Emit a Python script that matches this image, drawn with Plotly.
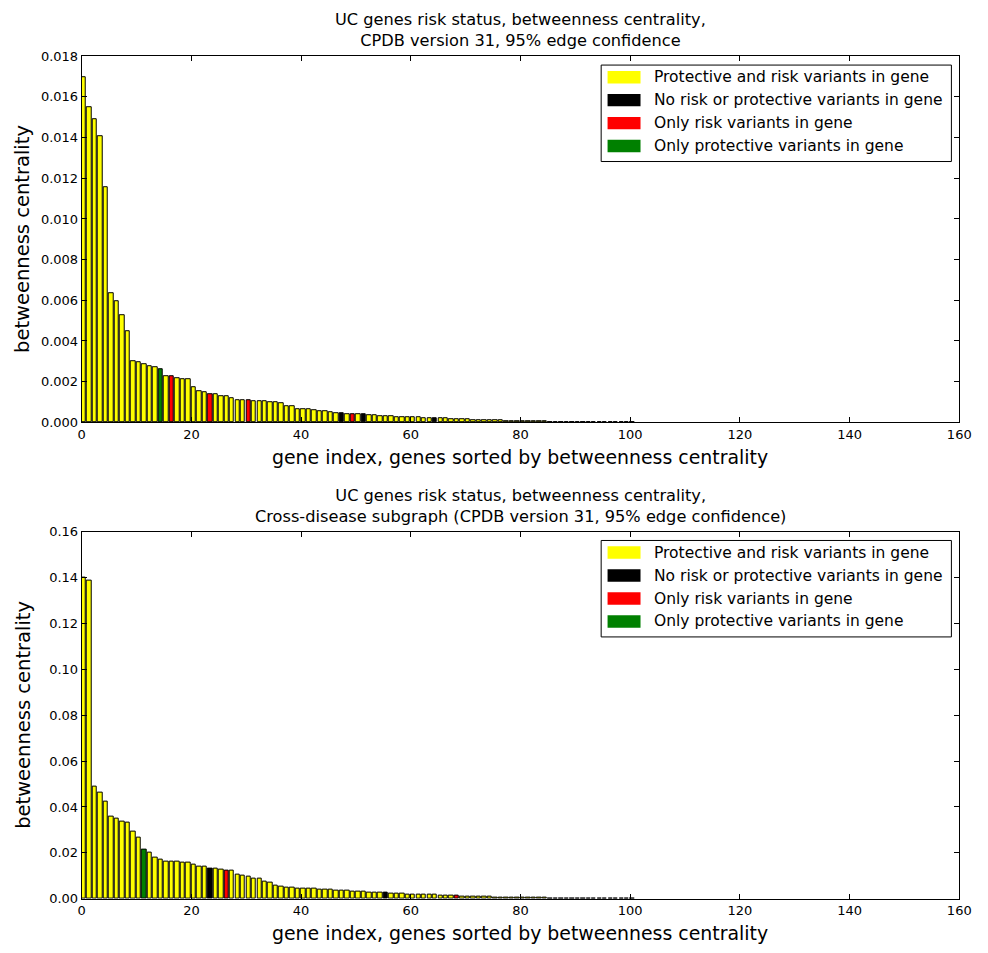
import plotly.graph_objects as go

N_GENES = 150

# ---- top panel: CPDB v31, 95% edge confidence ----
top_values = [
    0.01695, 0.01547, 0.01492, 0.01406, 0.01156, 0.00637, 0.00597, 0.00526, 0.00448, 0.00302,
    0.00295, 0.00285, 0.00276, 0.00271, 0.00263, 0.00229, 0.00229, 0.00219, 0.00214, 0.00211,
    0.00174, 0.00155, 0.00150, 0.00139, 0.00137, 0.00131, 0.00131, 0.00119, 0.00111, 0.00108,
    0.00108, 0.00104, 0.00102, 0.00102, 0.00098, 0.00097, 0.00092, 0.00077, 0.00077, 0.00066,
    0.00064, 0.00063, 0.00060, 0.00057, 0.00053, 0.00049, 0.00046, 0.00046, 0.00042, 0.00042,
    0.00040, 0.00040, 0.00035, 0.00034, 0.00032, 0.00031, 0.00029, 0.00027, 0.00026, 0.00024,
    0.00024, 0.00023, 0.00022, 0.00021, 0.00021, 0.00019, 0.00018, 0.00017, 0.00016, 0.00016,
    0.00015, 0.00013, 0.00012, 0.00011, 0.00010, 0.00010, 0.00009, 0.00008, 0.00008, 0.00007,
    0.00006, 0.00005, 0.00005, 0.00004, 0.00004, 0.00003, 0.00003, 0.00003, 0.00002, 0.00002,
    0.00002, 0.00002, 0.00001, 0.00001, 0.00001, 0.00001, 0.00001, 0.00001, 0.000005, 0.000005,
    0.000003,
]
top_values = top_values + [0.0] * (N_GENES - len(top_values))
top_green = [14]
top_red = [16, 23, 30, 49]
top_black = [47, 51, 64]

# ---- bottom panel: cross-disease subgraph ----
bottom_values = [
    0.1400, 0.1386, 0.0489, 0.0463, 0.0423, 0.0359, 0.0349, 0.0337, 0.0330, 0.0294,
    0.0267, 0.0214, 0.0199, 0.0178, 0.0169, 0.0163, 0.0161, 0.0160, 0.0156, 0.0156,
    0.0150, 0.0138, 0.0138, 0.0133, 0.0130, 0.0126, 0.0122, 0.0122, 0.0104, 0.0100,
    0.0096, 0.0086, 0.0086, 0.0076, 0.0069, 0.0059, 0.0054, 0.0050, 0.0047, 0.0044,
    0.0044, 0.0043, 0.0043, 0.0041, 0.0040, 0.0039, 0.0036, 0.0035, 0.0034, 0.0031,
    0.0031, 0.0029, 0.0028, 0.0028, 0.0026, 0.0025, 0.0023, 0.0023, 0.0022, 0.0020,
    0.0020, 0.0019, 0.0018, 0.0017, 0.0016, 0.0014, 0.0014, 0.0013, 0.0013, 0.0011,
    0.0011, 0.0010, 0.0009, 0.0008, 0.0008, 0.0007, 0.0006, 0.0006, 0.0005, 0.0005,
    0.0004, 0.0004, 0.0003, 0.0003, 0.0003, 0.0002, 0.0002, 0.0002, 0.0001, 0.0001,
    0.0001, 0.0001, 0.00008, 0.00006, 0.00005, 0.00004, 0.00003, 0.00002, 0.00002, 0.00001,
    0.00001,
]
bottom_values = bottom_values + [0.0] * (N_GENES - len(bottom_values))
bottom_green = [11]
bottom_red = [26, 68]
bottom_black = [23, 55]

legend_labels = [
    "Protective and risk variants in gene",
    "No risk or protective variants in gene",
    "Only risk variants in gene",
    "Only protective variants in gene",
]
legend_colors = ["#ffff00", "#000000", "#ff0000", "#008000"]

title_top = "UC genes risk status, betweenness centrality,<br>CPDB version 31, 95% edge confidence"
title_bottom = ("UC genes risk status, betweenness centrality,<br>"
                "Cross-disease subgraph (CPDB version 31, 95% edge confidence)")
xlabel = "gene index, genes sorted by betweenness centrality"
ylabel = "betweenness centrality"

x_ticks = [0, 20, 40, 60, 80, 100, 120, 140, 160]
top_yticks = [0.000, 0.002, 0.004, 0.006, 0.008, 0.010, 0.012, 0.014, 0.016, 0.018]
bottom_yticks = [0.00, 0.02, 0.04, 0.06, 0.08, 0.10, 0.12, 0.14, 0.16]


def colors_for(n, green, red, black):
    cols = []
    for i in range(n):
        if i in green:
            cols.append(legend_colors[3])
        elif i in red:
            cols.append(legend_colors[2])
        elif i in black:
            cols.append(legend_colors[1])
        else:
            cols.append(legend_colors[0])
    return cols


FONT = "DejaVu Sans"
W, H = 988, 953

fig = go.Figure()
idx = list(range(N_GENES))
for vals, g, r, b, xa, ya in [(top_values, top_green, top_red, top_black, "x", "y"),
                              (bottom_values, bottom_green, bottom_red, bottom_black, "x2", "y2")]:
    fig.add_trace(go.Bar(x=idx, y=vals, offset=0, width=0.8,
                         marker=dict(color=colors_for(N_GENES, g, r, b),
                                     line=dict(color="black",
                                               width=[1 if v > 0 else 0 for v in vals])),
                         xaxis=xa, yaxis=ya, showlegend=False, hoverinfo="x+y"))

# pixel layout (from reference)
px_l, px_r = 79, 971
top_t, top_b = 50, 422
bot_t, bot_b = 533, 906

def ydom(t, b):
    return [(H - b) / H, (H - t) / H]

xdom = [px_l / W, px_r / W]
axis_common = dict(showline=True, linecolor="black", linewidth=1, mirror="allticks",
                   ticks="inside", ticklen=5, tickcolor="black", showgrid=False, zeroline=False,
                   tickfont=dict(family=FONT, size=13, color="black"))

fig.update_layout(
    width=W, height=H, margin=dict(l=0, r=0, t=0, b=0),
    paper_bgcolor="white", plot_bgcolor="white", bargap=0,
    showlegend=False,
    xaxis=dict(domain=xdom, range=[0, 160], tickvals=x_ticks, anchor="y", **axis_common),
    yaxis=dict(domain=ydom(top_t, top_b), range=[0, 0.018], tickvals=top_yticks,
               tickformat=".3f", anchor="x", **axis_common),
    xaxis2=dict(domain=xdom, range=[0, 160], tickvals=x_ticks, anchor="y2", **axis_common),
    yaxis2=dict(domain=ydom(bot_t, bot_b), range=[0, 0.16], tickvals=bottom_yticks,
                tickformat=".2f", anchor="x2", **axis_common),
)

annotations = []
shapes = []
xc = (px_l + px_r) / 2 / W
for (t, b, title) in [(top_t, top_b, title_top), (bot_t, bot_b, title_bottom)]:
    annotations.append(dict(text=title, x=xc, y=(H - t + 4) / H, xref="paper", yref="paper",
                            xanchor="center", yanchor="bottom", showarrow=False,
                            font=dict(family=FONT, size=16.2, color="black")))
    annotations.append(dict(text=xlabel, x=xc, y=(H - b - 22) / H, xref="paper", yref="paper",
                            xanchor="center", yanchor="top", showarrow=False,
                            font=dict(family=FONT, size=18.9, color="black")))
    annotations.append(dict(text=ylabel, x=19 / W, y=(H - (t + b) / 2) / H, xref="paper",
                            yref="paper", xanchor="center", yanchor="middle", textangle=-90,
                            showarrow=False, font=dict(family=FONT, size=19.5, color="black")))
    # legend box
    lx0, lx1 = 607, 963
    ly0 = t + 9
    ly1 = ly0 + 98
    shapes.append(dict(type="rect", xref="paper", yref="paper", x0=lx0 / W, x1=lx1 / W,
                       y0=(H - ly1) / H, y1=(H - ly0) / H,
                       line=dict(color="black", width=1), fillcolor="white", layer="above"))
    for k, (lab, col) in enumerate(zip(legend_labels, legend_colors)):
        cy = t + 21.3 + k * 23.33
        shapes.append(dict(type="rect", xref="paper", yref="paper", x0=613.5 / W, x1=647 / W,
                           y0=(H - cy - 6.3) / H, y1=(H - cy + 6.3) / H,
                           line=dict(color=col, width=0), fillcolor=col, layer="above"))
        annotations.append(dict(text=lab, x=659 / W, y=(H - cy) / H, xref="paper", yref="paper",
                                xanchor="left", yanchor="middle", showarrow=False,
                                font=dict(family=FONT, size=15.5, color="black")))

fig.update_layout(annotations=annotations, shapes=shapes)
fig.write_html("out.html", post_script="document.body.style.margin='0';")
